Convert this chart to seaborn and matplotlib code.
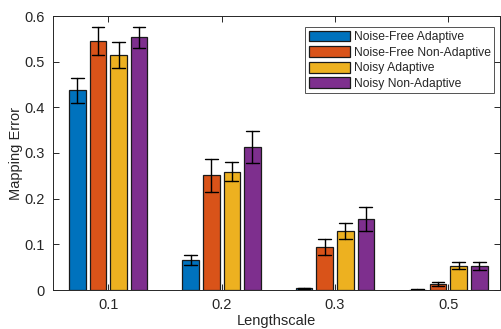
import numpy as np
import pandas as pd
import matplotlib
matplotlib.use("Agg")
import matplotlib.pyplot as plt
import seaborn as sns

lengthscales = ["0.1", "0.2", "0.3", "0.5"]
methods = ["Noise-Free Adaptive", "Noise-Free Non-Adaptive", "Noisy Adaptive", "Noisy Non-Adaptive"]

nf_adaptive = [0.437, 0.066, 0.004, 0.001]
nf_adaptive_err = [0.028, 0.011, 0.001, 0.0005]
nf_nonadaptive = [0.546, 0.251, 0.094, 0.0125]
nf_nonadaptive_err = [0.031, 0.036, 0.017, 0.0045]
noisy_adaptive = [0.515, 0.259, 0.129, 0.053]
noisy_adaptive_err = [0.028, 0.021, 0.018, 0.008]
noisy_nonadaptive = [0.553, 0.313, 0.156, 0.052]
noisy_nonadaptive_err = [0.022, 0.035, 0.026, 0.0085]

colors = ["#0072BD", "#D95319", "#EDB120", "#7E2F8E"]

means = [nf_adaptive, nf_nonadaptive, noisy_adaptive, noisy_nonadaptive]
errs = [nf_adaptive_err, nf_nonadaptive_err, noisy_adaptive_err, noisy_nonadaptive_err]

rows = []
for m, mv, ev in zip(methods, means, errs):
    for ls, v, e in zip(lengthscales, mv, ev):
        rows.append({"Lengthscale": ls, "Method": m, "value": v - e})
        rows.append({"Lengthscale": ls, "Method": m, "value": v + e})
df = pd.DataFrame(rows)

sns.set_style("white")
plt.rcParams["font.family"] = ["Liberation Sans", "DejaVu Sans"]

fig = plt.figure(figsize=(5.02, 3.29), dpi=100)
ax = fig.add_axes([53 / 502, 1 - 290 / 329, 447 / 502, 274 / 329])

sns.barplot(
    data=df, x="Lengthscale", y="value", hue="Method",
    order=lengthscales, hue_order=methods, palette=colors,
    estimator="mean", errorbar=lambda x: (x.min(), x.max()),
    width=0.727, gap=0.19, capsize=0.45, saturation=1,
    edgecolor="#1a1a1a", linewidth=0.9,
    err_kws={"color": "black", "linewidth": 1.0},
    ax=ax,
)

ax.set_ylim(0, 0.6)
ax.set_xlim(-0.487, 3.456)
ax.set_yticks([0, 0.1, 0.2, 0.3, 0.4, 0.5, 0.6])
ax.set_yticklabels(["0", "0.1", "0.2", "0.3", "0.4", "0.5", "0.6"])
ax.set_xlabel("Lengthscale", fontsize=10.5, color="#262626", labelpad=1)
ax.set_ylabel("Mapping Error", fontsize=10.5, color="#262626", labelpad=1)
ax.tick_params(axis="both", direction="in", length=4, width=0.7, colors="#262626",
               labelsize=10.5, top=True, right=True, bottom=True, left=True, pad=6)
for s in ax.spines.values():
    s.set_visible(True)
    s.set_color("#262626")
    s.set_linewidth(0.7)

leg = ax.legend(loc="upper right", bbox_to_anchor=(0.987, 0.96), fontsize=8.7,
                frameon=True, fancybox=False, edgecolor="#262626",
                handlelength=3.4, handleheight=1.0, handletextpad=0.3,
                labelspacing=0.25, borderpad=0.3, borderaxespad=0, title=None)
leg.get_frame().set_linewidth(0.7)
for h in leg.legend_handles:
    h.set_edgecolor("#1a1a1a")
    h.set_linewidth(0.9)

fig.savefig("out.png", dpi=100)
